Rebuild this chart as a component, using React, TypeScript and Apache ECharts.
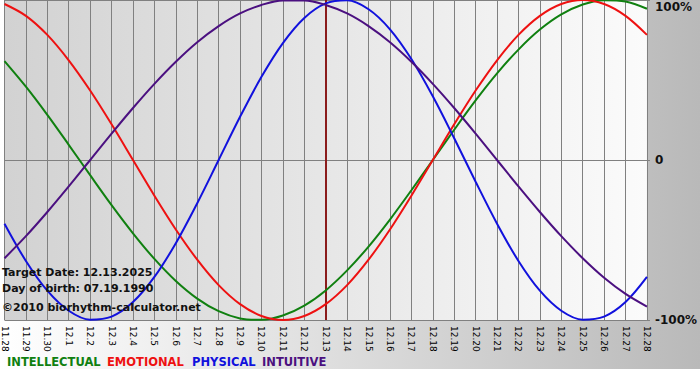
import React, { useEffect, useRef } from 'react';
import * as echarts from 'echarts';

const dates = [
  '11.28', '11.29', '11.30', '12.1', '12.2', '12.3', '12.4', '12.5', '12.6', '12.7', '12.8',
  '12.9', '12.10', '12.11', '12.12', '12.13', '12.14', '12.15', '12.16', '12.17', '12.18',
  '12.19', '12.20', '12.21', '12.22', '12.23', '12.24', '12.25', '12.26', '12.27', '12.28',
];
const intellectual = [61.8, 45.8, 28.2, 9.5, -9.5, -28.2, -45.8, -61.8, -75.6, -86.6, -94.5, -99.0, -99.9, -97.2, -91.0, -81.5, -69.0, -54.1, -37.2, -18.9, 0, 18.9, 37.2, 54.1, 69.0, 81.5, 91.0, 97.2, 99.9, 99.0, 94.5];
const emotional = [97.5, 90.1, 78.2, 62.3, 43.4, 22.3, 0, -22.3, -43.4, -62.3, -78.2, -90.1, -97.5, -100, -97.5, -90.1, -78.2, -62.3, -43.4, -22.3, 0, 22.3, 43.4, 62.3, 78.2, 90.1, 97.5, 100, 97.5, 90.1, 78.2];
const physical = [-39.8, -63.1, -81.7, -94.2, -99.8, -97.9, -88.8, -73.1, -52.0, -27.0, 0, 27.0, 52.0, 73.1, 88.8, 97.9, 99.8, 94.2, 81.7, 63.1, 39.8, 13.6, -13.6, -39.8, -63.1, -81.7, -94.2, -99.8, -97.9, -88.8, -73.1];
const intuitive = [-61.4, -47.6, -32.5, -16.5, 0, 16.5, 32.5, 47.6, 61.4, 73.6, 83.7, 91.6, 96.9, 99.7, 99.7, 96.9, 91.6, 83.7, 73.6, 61.4, 47.6, 32.5, 16.5, 0, -16.5, -32.5, -47.6, -61.4, -73.6, -83.7, -91.6];
const targetDate = '12.13';
const infoLines = ['Target Date: 12.13.2025', 'Day of birth: 07.19.1990', '©2010 biorhythm-calculator.net'];
const legendNames = ['INTELLECTUAL', 'EMOTIONAL', 'PHYSICAL', 'INTUITIVE'];
const colors = ['#108010', '#ee1111', '#1111dd', '#4b1080'];

const FONT = '"DejaVu Sans", Verdana, sans-serif';

export default function App() {
  const ref = useRef<HTMLDivElement>(null);
  useEffect(() => {
    document.body.style.margin = '0';
    if (!ref.current) return;
    const chart = echarts.init(ref.current, null, { renderer: 'svg' });
    const seriesData = [intellectual, emotional, physical, intuitive];
    const legendX = [7, 107, 192, 262];
    const infoY = [272, 288, 307];
    chart.setOption({
      animation: false,
      backgroundColor: '#ffffff',
      grid: {
        left: 0,
        top: 0,
        width: 650,
        height: 320,
        show: true,
        borderWidth: 0,
        backgroundColor: new echarts.graphic.LinearGradient(0, 0, 1, 0, [
          { offset: 0, color: '#d2d2d2' },
          { offset: 1, color: '#fbfbfb' },
        ]),
      },
      xAxis: {
        type: 'category',
        data: dates,
        boundaryGap: false,
        axisLine: { show: true, lineStyle: { color: '#808080', width: 1 } },
        axisTick: { show: true, length: 4, lineStyle: { color: '#808080' } },
        splitLine: { show: true, lineStyle: { color: '#808080', width: 1 } },
        axisLabel: {
          rotate: -90,
          interval: 0,
          fontSize: 9,
          fontFamily: FONT,
          color: '#000',
          margin: 6,
        },
      },
      yAxis: {
        type: 'value',
        position: 'right',
        min: -100,
        max: 100,
        interval: 100,
        axisLine: { show: true, lineStyle: { color: '#808080', width: 1 } },
        axisTick: { show: true, length: 3, lineStyle: { color: '#808080' } },
        splitLine: { show: true, lineStyle: { color: '#808080', width: 1 } },
        axisLabel: {
          margin: 8,
          fontSize: 12,
          fontWeight: 'bold',
          fontFamily: FONT,
          color: '#111',
          formatter: (v: number) => (v === 100 ? '{t|100%}' : v === 0 ? '0' : v + '%'),
          rich: {
            t: { fontSize: 12, fontWeight: 'bold', fontFamily: FONT, color: '#111', padding: [14, 0, 0, 0] },
          },
        },
      },
      series: seriesData.map((d, i) => ({
        name: legendNames[i],
        type: 'line',
        data: d,
        smooth: 0.34,
        symbol: 'none',
        clip: false,
        lineStyle: { color: colors[i], width: 2 },
        z: 3 + i,
        ...(i === 0
          ? {
              markLine: {
                silent: true,
                symbol: ['none', 'none'],
                label: { show: false },
                lineStyle: { color: '#8b1c1c', width: 2, type: 'solid' },
                data: [{ xAxis: targetDate }],
                z: 2,
              },
            }
          : {}),
      })),
      graphic: [
        {
          type: 'rect',
          z: -100,
          silent: true,
          shape: { x: 0, y: 0, width: 700, height: 369 },
          style: {
            fill: new echarts.graphic.LinearGradient(0, 0, 1, 0, [
              { offset: 0, color: '#ffffff' },
              { offset: 1, color: '#b9b9b9' },
            ]),
          },
        },
        ...infoLines.map((t, i) => ({
          type: 'text',
          z: 100,
          silent: true,
          style: {
            text: t,
            x: 2,
            y: infoY[i],
            fill: '#111',
            font: `bold 11px ${FONT}`,
            verticalAlign: 'middle',
          },
        })),
        ...legendNames.map((t, i) => ({
          type: 'text',
          z: 100,
          silent: true,
          style: {
            text: t,
            x: legendX[i],
            y: 362,
            fill: colors[i],
            font: `bold 11.5px ${FONT}`,
            verticalAlign: 'middle',
          },
        })),
      ],
    });
    return () => chart.dispose();
  }, []);
  return <div ref={ref} style={{ width: 700, height: 380 }} />;
}
